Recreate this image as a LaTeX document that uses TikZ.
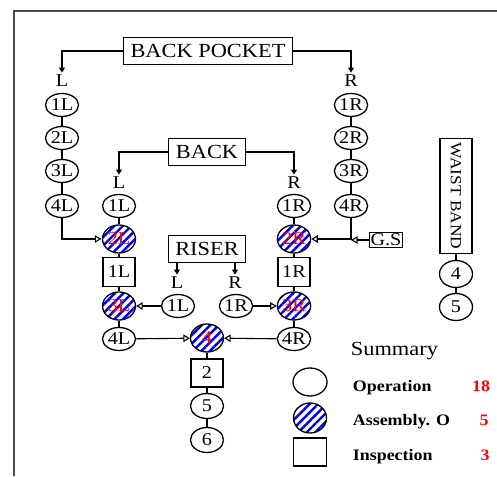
\documentclass[tikz,border=0pt]{standalone}
\usepackage{fontspec}
\setmainfont{Liberation Serif}[FakeStretch=1.12]
\usetikzlibrary{shapes.geometric,arrows.meta,patterns.meta}
\begin{document}
\begin{tikzpicture}
  [x=1pt,y=-1pt,line width=1.1pt,
   op/.style={ellipse,draw,line width=1.3pt,inner sep=0pt,minimum width=33pt,minimum height=23pt,
     font=\fontsize{18}{18}\selectfont},
   asm/.style={op,minimum height=28pt,text=red,
     pattern={Lines[angle=45,distance=6pt,line width=2.4pt]},pattern color=blue},
   insp/.style={rectangle,draw,inner sep=0pt,minimum width=32pt,minimum height=29pt,
     font=\fontsize{18}{18}\selectfont},
   partbox/.style={rectangle,draw,inner xsep=7pt,inner ysep=0pt,minimum height=27pt,
     font=\fontsize{20}{20}\selectfont},
   sidelbl/.style={inner sep=2pt,font=\fontsize{18}{18}\selectfont},
   keytext/.style={anchor=base west,font=\bfseries\fontsize{16}{16}\selectfont},
   tally/.style={anchor=base,text=red,font=\bfseries\fontsize{16}{16}\selectfont},
   feedarrow/.style={-{Triangle[length=5pt,width=6pt]}},
   merge/.style={-{Triangle[open,length=6.5pt,width=7.5pt]}}]
  \useasboundingbox (0,0) rectangle (497,476);
  \draw [black!70,line width=1.3pt] (14,476) -- (14,11) -- (497,11);

  % parts
  \node (bp) at (208,51) [partbox] {BACK POCKET};
  \node (bk) at (207,152) [partbox] {BACK};
  \node (rs) at (207,249) [partbox] {RISER};
  \node (wb) at (456,196) [partbox,rotate=-90,minimum width=115pt,minimum height=32pt,
    inner xsep=0pt,font=\fontsize{15.5}{15.5}\selectfont] {WAIST BAND};
  \node (gs) at (386,240) [draw,inner sep=1.5pt,font=\fontsize{18}{18}\selectfont] {G.S};

  \node (lbpL) at (62,81) [sidelbl] {L};
  \node (lbpR) at (351,81) [sidelbl] {R};
  \node (lbkL) at (119,183) [sidelbl] {L};
  \node (lbkR) at (294,183) [sidelbl] {R};
  \node (lrsL) at (177,283) [sidelbl] {L};
  \node (lrsR) at (235,283) [sidelbl] {R};

  % back pocket
  \node (bp1L) at (62,105) [op] {1L};
  \node (bp2L) at (62,138) [op] {2L};
  \node (bp3L) at (62,171) [op] {3L};
  \node (bp4L) at (62,206) [op] {4L};
  \node (bp1R) at (351,105) [op] {1R};
  \node (bp2R) at (351,138) [op] {2R};
  \node (bp3R) at (351,171) [op] {3R};
  \node (bp4R) at (351,206) [op] {4R};

  % back
  \node (bk1L) at (119,206) [op] {1L};
  \node (a2L) at (119,239) [asm] {2L};
  \node (i1L) at (119,272) [insp] {1L};
  \node (a3L) at (119,306) [asm] {3L};
  \node (o4L) at (119,339) [op] {4L};
  \node (bk1R) at (294,206) [op] {1R};
  \node (a2R) at (294,239) [asm] {2R};
  \node (i1R) at (294,272) [insp] {1R};
  \node (a3R) at (294,306) [asm] {3R};
  \node (o4R) at (294,339) [op] {4R};

  % riser
  \node (rs1L) at (178,306) [op] {1L};
  \node (rs1R) at (236,306) [op] {1R};

  \node (a4) at (207,338) [asm] {4};
  \node (i2) at (207,373) [insp,minimum height=28pt] {2};
  \node (o5) at (207,406) [op,minimum height=25pt] {5};
  \node (o6) at (207,440) [op,minimum height=25pt] {6};

  \node (wb4) at (456,274) [op,minimum height=27pt] {4};
  \node (wb5) at (456,307) [op,minimum height=27pt] {5};

  % summary
  \node (sum) at (347,355) [anchor=base west,font=\fontsize{20}{20}\selectfont] {Summary};
  \node (kop) at (310,382) [op,minimum width=34pt,minimum height=28pt] {};
  \node (kasm) at (310,418) [asm,minimum height=30pt] {};
  \node (kins) at (310,452) [insp,minimum width=33pt,minimum height=28pt] {};
  \node (top) at (349,391) [keytext] {Operation};
  \node (tasm) at (349,425) [keytext] {Assembly. O};
  \node (tins) at (349,460) [keytext] {Inspection};
  \node (nop) at (481,391) [tally] {18};
  \node (nasm) at (484,425) [tally] {5};
  \node (nins) at (485,460) [tally] {3};

  \draw [feedarrow] (bp.west) -| (lbpL);
  \draw [feedarrow] (bp.east) -| (lbpR);
  \draw [feedarrow] (bk.west) -| (lbkL);
  \draw [feedarrow] (bk.east) -| (lbkR);
  \draw [feedarrow] (rs.south -| lrsL) -- (lrsL);
  \draw [feedarrow] (rs.south -| lrsR) -- (lrsR);

  \foreach \a/\b in {bp1L/bp2L,bp2L/bp3L,bp3L/bp4L,bp1R/bp2R,bp2R/bp3R,bp3R/bp4R,
    bk1L/a2L,a2L/i1L,i1L/a3L,a3L/o4L,bk1R/a2R,a2R/i1R,i1R/a3R,a3R/o4R,
    a4/i2,i2/o5,o5/o6,wb/wb4,wb4/wb5}
    \draw (\a) -- (\b);

  \draw [merge] (bp4L) |- (a2L);
  \draw [merge] (bp4R) |- (a2R);
  \draw [merge] (gs) -- (bp4R |- gs);
  \draw [merge] (rs1L) -- (a3L);
  \draw [merge] (rs1R) -- (a3R);
  \draw [merge] (o4L) -- (a4);
  \draw [merge] (o4R) -- (a4);
\end{tikzpicture}
\end{document}
